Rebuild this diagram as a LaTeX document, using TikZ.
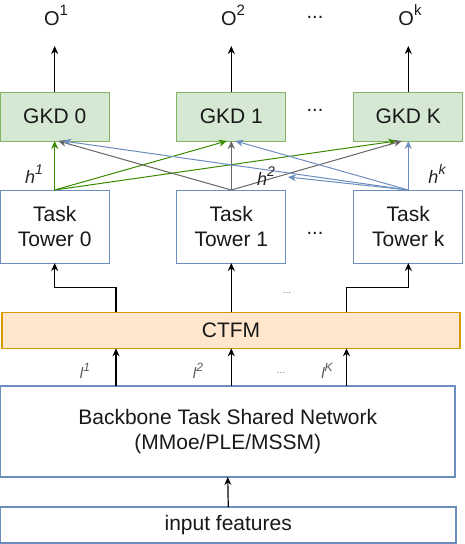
\documentclass[tikz,border=0pt]{standalone}
\usepackage{fontspec}
\setmainfont{Liberation Sans}
\usetikzlibrary{arrows.meta}
\definecolor{gkdfill}{HTML}{D5E8D4}
\definecolor{gkdline}{HTML}{82B366}
\definecolor{blueline}{HTML}{6C8EBF}
\definecolor{ctfill}{HTML}{FFE6CC}
\definecolor{ctline}{HTML}{D79B00}
\definecolor{greenarr}{HTML}{3A8A00}
\definecolor{grayarr}{HTML}{666666}
\newcommand{\mysup}[2]{\raisebox{0.5em}{\fontsize{#1}{#1}\selectfont #2}}
\newcommand{\bigfont}{\fontsize{21}{25}\selectfont}
\begin{document}
\begin{tikzpicture}[x=1pt,y=-1pt,
  box/.style={draw, inner sep=0pt, outer sep=0pt, align=center, font=\bigfont, text=black!90},
  gkd/.style={box, fill=gkdfill, draw=gkdline, line width=1pt, minimum width=109pt, minimum height=49pt},
  tower/.style={box, fill=white, draw=blueline, line width=1pt, minimum width=109pt, minimum height=73pt},
  arr/.style={-{Stealth[length=8pt,width=7pt]}, line width=1.2pt, black},
  garr/.style={-{Stealth[length=8pt,width=7pt]}, line width=1pt, greenarr},
  yarr/.style={-{Stealth[length=8pt,width=7pt]}, line width=1pt, grayarr},
  barr/.style={-{Stealth[length=8pt,width=7pt]}, line width=1pt, blueline},
  lab/.style={inner sep=0pt, font=\fontsize{20}{20}\selectfont, text=black!90},
  hlab/.style={inner sep=0pt, font=\fontsize{18}{18}\selectfont\itshape, text=black!85},
  llab/.style={inner sep=0pt, font=\fontsize{15}{15}\selectfont\itshape, text=black!65},
  dots/.style={inner sep=0pt, font=\fontsize{20}{20}\selectfont, text=black!90},
  sdots/.style={inner sep=0pt, font=\fontsize{10}{10}\selectfont, text=black!50}
]
\useasboundingbox (0,0) rectangle (464,544);

% output labels
\node[lab] (o1) at (56,15) {O\mysup{15}{1}};
\node[lab] (o2) at (233,15) {O\mysup{15}{2}};
\node[lab] (ok) at (410,15) {O\mysup{15}{k}};
\node[dots] (d0) at (315,17) {...};
\coordinate (a1) at (54.7,46);
\coordinate (a2) at (231.3,46);
\coordinate (ak) at (408.3,46);

% GKD boxes
\node[gkd] (g0) at (54.7,116.5) {GKD 0};
\node[gkd] (g1) at (231.3,116.5) {GKD 1};
\node[gkd] (gk) at (408.3,116.5) {GKD K};
\node[dots] (d1) at (315,110) {...};

% towers
\node[tower] (t0) at (54.7,226.5) {Task\\Tower 0};
\node[tower] (t1) at (231.3,226.5) {Task\\Tower 1};
\node[tower] (tk) at (408.3,226.5) {Task\\Tower k};
\node[dots] (d2) at (315,233) {...};

% CTFM
\node[box, fill=ctfill, draw=ctline, line width=1.5pt, minimum width=458pt, minimum height=36pt] (ct) at (231,330.3) {CTFM};

% backbone
\node[box, fill=white, draw=blueline, line width=1.3pt, minimum width=454.5pt, minimum height=91pt] (bb) at (227.75,431.5) {Backbone Task Shared Network\\(MMoe/PLE/MSSM)};

% input
\node[box, fill=white, draw=blueline, line width=1.6pt, minimum width=455.5pt, minimum height=36pt] (inp) at (228.25,525) {input features};

% x positions
\coordinate (xa) at (116,0);
\coordinate (xb) at (231.3,0);
\coordinate (xc) at (346.5,0);

% outputs
\draw[arr] (g0.north) -- (a1);
\draw[arr] (g1.north) -- (a2);
\draw[arr] (gk.north) -- (ak);

% tower -> gkd
\draw[garr] (t0.north) -- (g0.south);
\draw[garr] (t0.north) -- ([xshift=-4.5pt]g1.south);
\draw[garr] (t0.north) -- ([xshift=-12pt]gk.south);
\draw[yarr] (t1.north) -- (g1.south);
\draw[yarr] (t1.north) -- ([xshift=3.5pt]g0.south);
\draw[yarr] (t1.north) -- ([xshift=-6.5pt]gk.south);
\draw[barr] (tk.north) -- (gk.south);
\draw[barr] (tk.north) -- ([xshift=4pt]g1.south);
\draw[barr] (tk.north) -- ([xshift=8.5pt]g0.south);
\coordinate (bx) at (288,177);
\draw[barr] (tk.north) -- (bx);

\node[hlab] (h1) at (34,174) {h\mysup{14}{1}};
\node[hlab] (h2) at (266,176) {h\mysup{14}{2}};
\node[hlab] (hk) at (437,174) {h\mysup{14}{k}};

% ctfm -> towers
\draw[arr] (ct.north -| xa) -- ++(0,-24.6) -| (t0.south);
\draw[arr] (ct.north -| xb) -- (t1.south);
\draw[arr] (ct.north -| xc) -- ++(0,-24.6) -| (tk.south);
\node[sdots] (d3) at (287,293) {...};

% backbone -> ctfm
\draw[arr] (bb.north -| xa) -- (ct.south -| xa);
\draw[arr] (bb.north -| xb) -- (ct.south -| xb);
\draw[arr] (bb.north -| xc) -- (ct.south -| xc);
\node[llab] (l1) at (85,371) {l\mysup{12}{1}};
\node[llab] (l2) at (198,371) {l\mysup{12}{2}};
\node[llab] (lk) at (327,371) {l\mysup{12}{K}};
\node[sdots] (d4) at (281,373) {...};

% input -> backbone
\draw[arr] (inp.north) -- (bb.south);
\end{tikzpicture}
\end{document}
